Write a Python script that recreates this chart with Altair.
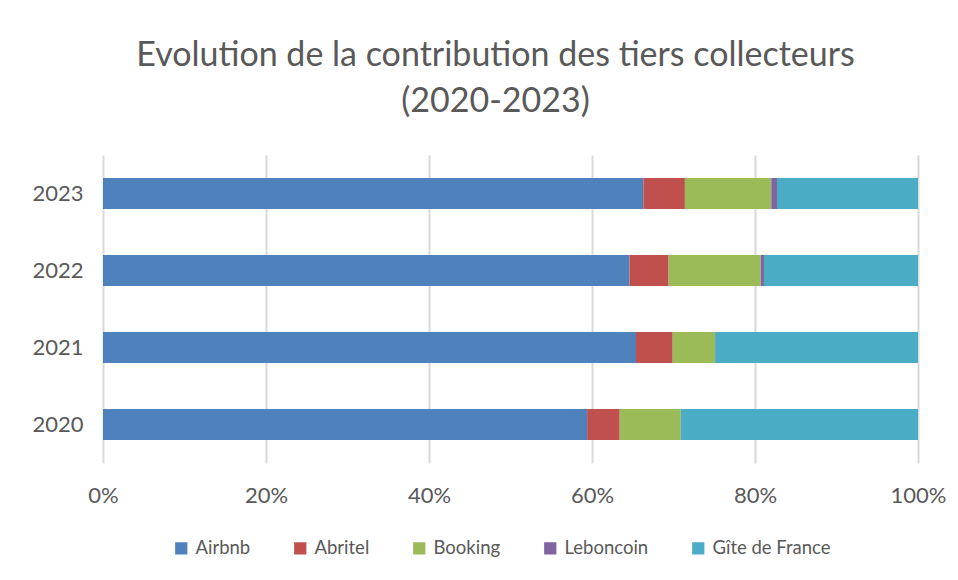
import altair as alt
import pandas as pd

years = ["2020", "2021", "2022", "2023"]
series = ["Airbnb", "Abritel", "Booking", "Leboncoin", "Gîte de France"]
airbnb = [59.4, 65.4, 64.6, 66.3]
abritel = [4.0, 4.5, 4.8, 5.1]
booking = [7.5, 5.2, 11.3, 10.6]
leboncoin = [0.0, 0.0, 0.4, 0.7]
gite = [29.1, 24.9, 18.9, 17.3]
colors = ["#4F81BD", "#C0504D", "#9BBB59", "#8064A2", "#4BACC6"]

values = [airbnb, abritel, booking, leboncoin, gite]
rows = []
for si, (s, vals) in enumerate(zip(series, values)):
    for y, v in zip(years, vals):
        rows.append({"Année": y, "Tiers": s, "Part": v / 100.0, "ordre": si})
df = pd.DataFrame(rows)

FONT = "Lato"

chart = alt.Chart(df).mark_bar(size=31).encode(
    y=alt.Y("Année:N", sort=years[::-1],
            axis=alt.Axis(title=None, labelFontSize=22, labelColor="#595959", labelFont=FONT,
                          ticks=False, domain=False, labelPadding=20, grid=False)),
    x=alt.X("Part:Q", stack="normalize",
            scale=alt.Scale(domain=[0, 1], nice=False),
            axis=alt.Axis(title=None, format="%", values=[0, 0.2, 0.4, 0.6, 0.8, 1.0],
                          labelFontSize=22, labelColor="#595959", labelFont=FONT,
                          labelFlush=False,
                          ticks=False, domain=False, labelPadding=22,
                          grid=True, gridColor="#d9d9d9", gridWidth=2)),
    color=alt.Color("Tiers:N", sort=series,
                    scale=alt.Scale(domain=series, range=colors),
                    legend=alt.Legend(title=None, orient="none", direction="horizontal",
                                      legendX=69, legendY=384,
                                      symbolType="square", symbolSize=150, symbolStrokeWidth=0,
                                      labelFontSize=18.5, labelColor="#595959", labelFont=FONT,
                                      columnPadding=40, symbolOffset=0, labelOffset=5)),
    order=alt.Order("ordre:Q", sort="ascending"),
).properties(
    width=815,
    height=308,
    background="white",
    autosize=alt.AutoSizeParams(type="none"),
    padding={"left": 95, "top": 147, "right": 30, "bottom": 109},
    title=alt.TitleParams(
        text=["Evolution de la contribution des tiers collecteurs", "(2020-2023)"],
        fontSize=34, font=FONT, fontWeight="normal", color="#595959",
        lineHeight=46, anchor="middle", dx=-15, offset=36,
    ),
).configure_view(stroke=None, strokeWidth=0)

chart.save("out.html", embed_options={"renderer": "svg", "actions": False})
